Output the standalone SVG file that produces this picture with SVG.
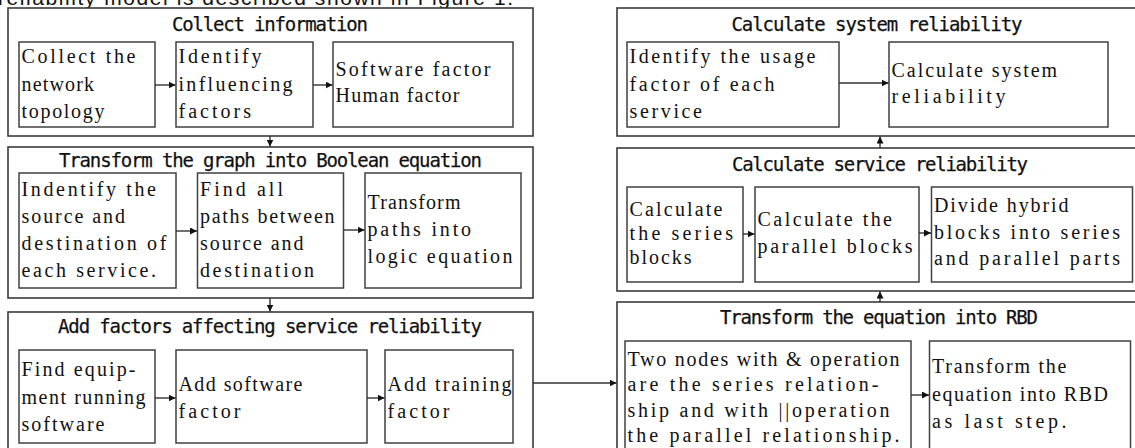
<svg xmlns="http://www.w3.org/2000/svg" width="1135" height="448" viewBox="0 0 1135 448">
<style>
.outer{fill:#fff;stroke:#3a3a3a;stroke-width:1.6}
.inner{fill:#fff;stroke:#404040;stroke-width:1.5}
.title{font-family:"DejaVu Sans Mono",monospace;font-size:19px;fill:#111;text-anchor:middle;stroke:#111;stroke-width:0.25}
.body{font-family:"Liberation Serif",serif;font-size:20px;fill:#111}
.conn{stroke:#333;stroke-width:1.4;fill:none;marker-end:url(#arr)}
.cap{font-family:"Liberation Sans",sans-serif;font-size:21px;fill:#111}
</style>
<defs>
<marker id="arr" markerUnits="userSpaceOnUse" markerWidth="8" markerHeight="7" refX="7" refY="3.5" orient="auto">
<path d="M0,0 L7,3.5 L0,7 z" fill="#111"/>
</marker>
</defs>
<rect width="1135" height="448" fill="#fff"/>
<text class="cap" x="-2" y="4.5" textLength="515" lengthAdjust="spacing">reliability model is described shown in Figure 1.</text>

<g id="collect-information">
<rect class="outer" x="8" y="8" width="525" height="128"/>
<text class="title" x="270" y="31" textLength="196" lengthAdjust="spacing">Collect information</text>
</g>
<g id="collect-topology">
<rect class="inner" x="19" y="42" width="136" height="85"/>
<text class="body" x="21.5" y="63" textLength="114" lengthAdjust="spacing">Collect the</text>
<text class="body" x="21.5" y="91" textLength="72.5" lengthAdjust="spacing">network</text>
<text class="body" x="21.5" y="118" textLength="83" lengthAdjust="spacing">topology</text>
</g>
<g id="identify-factors">
<rect class="inner" x="176" y="42" width="137" height="85"/>
<text class="body" x="178.5" y="63" textLength="83" lengthAdjust="spacing">Identify</text>
<text class="body" x="178.5" y="91" textLength="114" lengthAdjust="spacing">influencing</text>
<text class="body" x="178.5" y="118" textLength="72.5" lengthAdjust="spacing">factors</text>
</g>
<g id="software-human">
<rect class="inner" x="333" y="42" width="180" height="85"/>
<text class="body" x="335.5" y="76" textLength="155" lengthAdjust="spacing">Software factor</text>
<text class="body" x="335.5" y="102" textLength="124" lengthAdjust="spacing">Human factor</text>
</g>

<g id="transform-graph">
<rect class="outer" x="8" y="147" width="525" height="151"/>
<text class="title" x="270.5" y="167" textLength="423" lengthAdjust="spacing">Transform the graph into Boolean equation</text>
</g>
<g id="identify-source">
<rect class="inner" x="19" y="173" width="157" height="115"/>
<text class="body" x="21.5" y="196" textLength="134.5" lengthAdjust="spacing">Indentify the</text>
<text class="body" x="21.5" y="223" textLength="103.5" lengthAdjust="spacing">source and</text>
<text class="body" x="21.5" y="250" textLength="145" lengthAdjust="spacing">destination of</text>
<text class="body" x="21.5" y="277" textLength="134.5" lengthAdjust="spacing">each service.</text>
</g>
<g id="find-paths">
<rect class="inner" x="197.5" y="173" width="146" height="115"/>
<text class="body" x="200" y="196" textLength="83" lengthAdjust="spacing">Find all</text>
<text class="body" x="200" y="223" textLength="134.5" lengthAdjust="spacing">paths between</text>
<text class="body" x="200" y="250" textLength="103.5" lengthAdjust="spacing">source and</text>
<text class="body" x="200" y="277" textLength="114" lengthAdjust="spacing">destination</text>
</g>
<g id="transform-paths">
<rect class="inner" x="365" y="173" width="156" height="115"/>
<text class="body" x="367.5" y="209" textLength="93" lengthAdjust="spacing">Transform</text>
<text class="body" x="367.5" y="236" textLength="103.5" lengthAdjust="spacing">paths into</text>
<text class="body" x="367.5" y="263" textLength="145" lengthAdjust="spacing">logic equation</text>
</g>

<g id="add-factors">
<rect class="outer" x="8" y="312" width="525" height="140"/>
<text class="title" x="270" y="333" textLength="424" lengthAdjust="spacing">Add factors affecting service reliability</text>
</g>
<g id="find-equipment">
<rect class="inner" x="19" y="350" width="136" height="93"/>
<text class="body" x="21.5" y="376" textLength="114" lengthAdjust="spacing">Find equip-</text>
<text class="body" x="21.5" y="403.5" textLength="124" lengthAdjust="spacing">ment running</text>
<text class="body" x="21.5" y="431" textLength="83" lengthAdjust="spacing">software</text>
</g>
<g id="add-software">
<rect class="inner" x="176" y="350" width="191" height="93"/>
<text class="body" x="178.5" y="390.5" textLength="124" lengthAdjust="spacing">Add software</text>
<text class="body" x="178.5" y="417.5" textLength="62" lengthAdjust="spacing">factor</text>
</g>
<g id="add-training">
<rect class="inner" x="385" y="350" width="128" height="93"/>
<text class="body" x="387.5" y="390.5" textLength="124" lengthAdjust="spacing">Add training</text>
<text class="body" x="387.5" y="417.5" textLength="62" lengthAdjust="spacing">factor</text>
</g>

<g id="calc-system">
<rect class="outer" x="617" y="8" width="525" height="128"/>
<text class="title" x="877" y="31" textLength="291" lengthAdjust="spacing">Calculate system reliability</text>
</g>
<g id="usage-factor">
<rect class="inner" x="627" y="42" width="212" height="85"/>
<text class="body" x="629.5" y="63" textLength="186" lengthAdjust="spacing">Identify the usage</text>
<text class="body" x="629.5" y="91" textLength="145" lengthAdjust="spacing">factor of each</text>
<text class="body" x="629.5" y="118" textLength="72.5" lengthAdjust="spacing">service</text>
</g>
<g id="calc-system-reliability">
<rect class="inner" x="889" y="42" width="219" height="85"/>
<text class="body" x="891.5" y="77" textLength="165.6" lengthAdjust="spacing">Calculate system</text>
<text class="body" x="891.5" y="103" textLength="114" lengthAdjust="spacing">reliability</text>
</g>

<g id="calc-service">
<rect class="outer" x="617" y="148" width="525" height="143"/>
<text class="title" x="880" y="171" textLength="296" lengthAdjust="spacing">Calculate service reliability</text>
</g>
<g id="series-blocks">
<rect class="inner" x="627" y="187" width="116" height="95"/>
<text class="body" x="629.5" y="216" textLength="93" lengthAdjust="spacing">Calculate</text>
<text class="body" x="629.5" y="240" textLength="103.5" lengthAdjust="spacing">the series</text>
<text class="body" x="629.5" y="264" textLength="62" lengthAdjust="spacing">blocks</text>
</g>
<g id="parallel-blocks">
<rect class="inner" x="755" y="187" width="164" height="95"/>
<text class="body" x="757.5" y="226" textLength="134.5" lengthAdjust="spacing">Calculate the</text>
<text class="body" x="757.5" y="252.5" textLength="155" lengthAdjust="spacing">parallel blocks</text>
</g>
<g id="hybrid-blocks">
<rect class="inner" x="931.5" y="187" width="201" height="95"/>
<text class="body" x="934" y="212" textLength="134.5" lengthAdjust="spacing">Divide hybrid</text>
<text class="body" x="934" y="239" textLength="186" lengthAdjust="spacing">blocks into series</text>
<text class="body" x="934" y="265" textLength="186" lengthAdjust="spacing">and parallel parts</text>
</g>

<g id="transform-rbd">
<rect class="outer" x="617" y="302" width="525" height="150"/>
<text class="title" x="879" y="324" textLength="318" lengthAdjust="spacing">Transform the equation into RBD</text>
</g>
<g id="two-nodes">
<rect class="inner" x="625" y="341" width="286" height="112"/>
<text class="body" x="627.5" y="366" textLength="272" lengthAdjust="spacing">Two nodes with &amp; operation</text>
<text class="body" x="627.5" y="391" textLength="251" lengthAdjust="spacing">are the series relation-</text>
<text class="body" x="627.5" y="416.5" textLength="262" lengthAdjust="spacing">ship and with ||operation</text>
<text class="body" x="627.5" y="441.5" textLength="272" lengthAdjust="spacing">the parallel relationship.</text>
</g>
<g id="transform-last">
<rect class="inner" x="929.5" y="341" width="201" height="112"/>
<text class="body" x="932" y="373" textLength="134.5" lengthAdjust="spacing">Transform the</text>
<text class="body" x="932" y="401" textLength="176" lengthAdjust="spacing">equation into RBD</text>
<text class="body" x="932" y="428" textLength="134.5" lengthAdjust="spacing">as last step.</text>
</g>

<g id="connectors">
<line class="conn" x1="270" y1="136" x2="270" y2="146.5"/>
<line class="conn" x1="270" y1="298" x2="270" y2="311.5"/>
<line class="conn" x1="533" y1="383" x2="616.5" y2="383"/>
<line class="conn" x1="880" y1="302" x2="880" y2="291.5"/>
<line class="conn" x1="880" y1="148" x2="880" y2="136.5"/>
<line class="conn" x1="155" y1="85" x2="175.5" y2="85"/>
<line class="conn" x1="313" y1="85" x2="332.5" y2="85"/>
<line class="conn" x1="176" y1="231" x2="197" y2="231"/>
<line class="conn" x1="343.5" y1="230" x2="364.5" y2="230"/>
<line class="conn" x1="155" y1="398" x2="175.5" y2="398"/>
<line class="conn" x1="367" y1="398" x2="384.5" y2="398"/>
<line class="conn" x1="839" y1="83" x2="888.5" y2="83"/>
<line class="conn" x1="743" y1="234" x2="754.5" y2="234"/>
<line class="conn" x1="919" y1="233" x2="931" y2="233"/>
<line class="conn" x1="911" y1="395" x2="929" y2="395"/>
</g>
</svg>
